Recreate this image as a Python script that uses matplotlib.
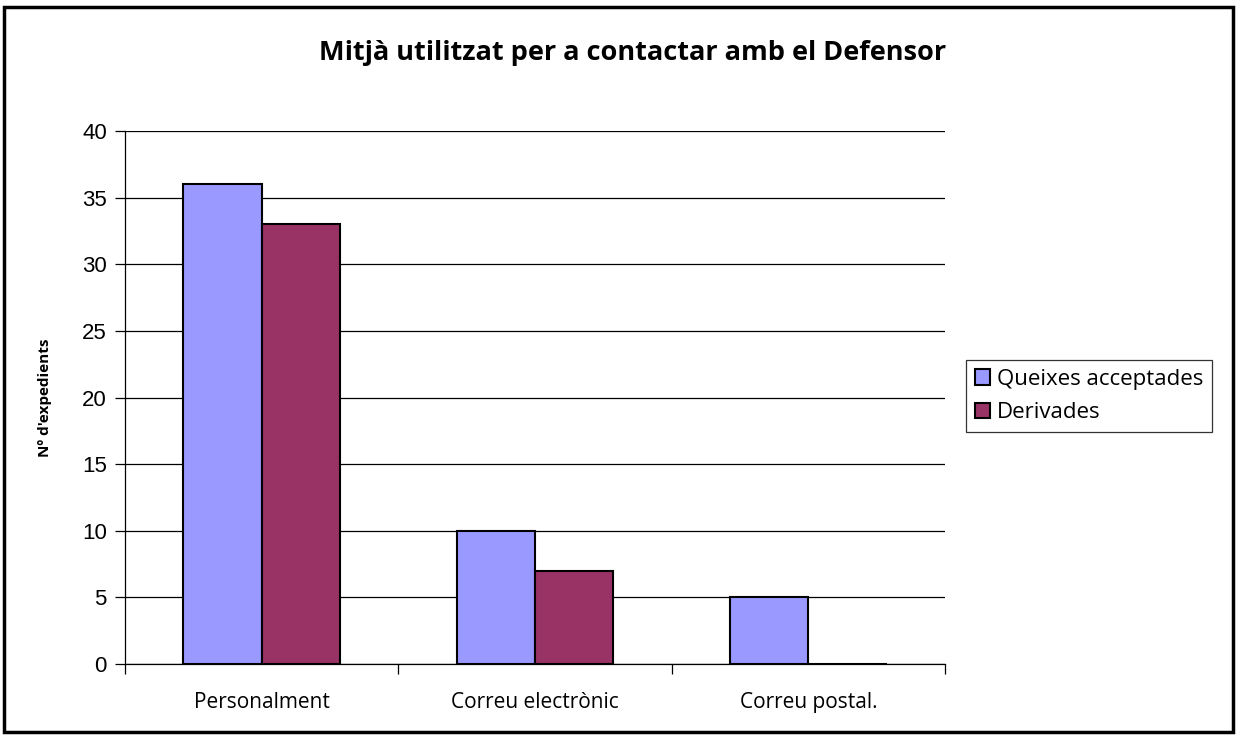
import numpy as np
import matplotlib.pyplot as plt
from matplotlib.patches import Rectangle

# Data
categories = ['Personalment', 'Correu electrònic', 'Correu postal.']
queixes = [36, 10, 5]
derivades = [33, 7, 0]
series_names = ['Queixes acceptades', 'Derivades']

x = np.arange(len(categories))
w = 0.286

fig = plt.figure(figsize=(12.4, 7.36), dpi=100)
ax = fig.add_axes([0.1008, 0.0978, 0.6613, 0.7242])

ax.bar(x - w/2, queixes, w, color='#9999ff', edgecolor='black', linewidth=1.5,
       label=series_names[0], zorder=3)
ax.bar(x + w/2, derivades, w, color='#993366', edgecolor='black', linewidth=1.5,
       label=series_names[1], zorder=3)

ax.set_xlim(-0.5, 2.5)
ax.set_ylim(0, 40)
ax.set_yticks(range(0, 41, 5))
ax.yaxis.grid(True, color='black', linewidth=0.9, zorder=0)
ax.set_axisbelow(True)

# category ticks between groups, labels at centres
ax.set_xticks([-0.5, 0.5, 1.5, 2.5])
ax.set_xticklabels([])
ax.set_xticks(x, minor=True)
ax.set_xticklabels(categories, minor=True, fontsize=15, family='Open Sans')
ax.tick_params(axis='x', which='minor', length=0, pad=20)
ax.tick_params(axis='x', which='major', length=7, width=0.9, direction='out')
ax.tick_params(axis='y', length=7, width=0.9, direction='out', labelsize=16, pad=6)
for lab in ax.get_yticklabels():
    lab.set_family('Liberation Sans')

for s in ['top', 'right']:
    ax.spines[s].set_visible(False)
ax.spines['left'].set_linewidth(0.9)
ax.spines['bottom'].set_linewidth(0.9)

ax.set_ylabel("Nº d'expedients", fontsize=11, fontweight='bold', family='Open Sans',
              labelpad=22)

fig.text(0.51, 0.928, 'Mitjà utilitzat per a contactar amb el Defensor', ha='center',
         va='center', fontsize=19.5, fontweight='bold', family='Open Sans')

leg = ax.legend(loc='center left', bbox_to_anchor=(0.779, 0.462), bbox_transform=fig.transFigure,
                frameon=True, fancybox=False, edgecolor='black',
                prop={'family': 'Open Sans', 'size': 16}, handlelength=0.7, handleheight=0.7,
                handletextpad=0.3, borderpad=0.4, labelspacing=0.55, borderaxespad=0)
leg.get_frame().set_linewidth(0.9)

fig.patches.append(Rectangle((0.003, 0.005), 0.991, 0.985, transform=fig.transFigure,
                             fill=False, edgecolor='black', linewidth=2.5))

plt.savefig('out.png')
